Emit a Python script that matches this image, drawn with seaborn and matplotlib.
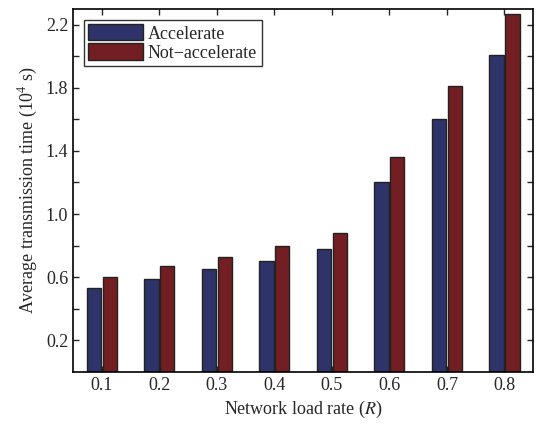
import matplotlib.pyplot as plt
import numpy as np
import pandas as pd
import seaborn as sns

load_rates = ['0.1', '0.2', '0.3', '0.4', '0.5', '0.6', '0.7', '0.8']
accelerate = [0.53, 0.59, 0.65, 0.70, 0.78, 1.20, 1.60, 2.01]
not_accelerate = [0.60, 0.67, 0.73, 0.80, 0.88, 1.36, 1.81, 2.27]
series_names = ['Accelerate', 'Not\u2212accelerate']
colors = ['#2e3469', '#731e22']

df = pd.DataFrame({
    'rate': load_rates * 2,
    'time': accelerate + not_accelerate,
    'method': [series_names[0]] * len(load_rates) + [series_names[1]] * len(load_rates),
})

sns.set_style('ticks')
plt.rcParams['font.family'] = ['Liberation Serif', 'DejaVu Serif']
plt.rcParams['mathtext.fontset'] = 'stix'

fig, ax = plt.subplots(figsize=(5.37, 4.24), dpi=100)
sns.barplot(data=df, x='rate', y='time', hue='method', palette=colors,
            width=0.55, gap=0.1, edgecolor='#222222', linewidth=1.0,
            saturation=1, ax=ax)

ax.set_xlim(-0.5, 7.5)
ax.set_ylim(0, 2.3)
yt = np.arange(0.2, 2.3, 0.2)
ax.set_yticks(yt)
ax.set_yticklabels([f'{v:.1f}' if i % 2 == 0 else '' for i, v in enumerate(yt)])
ax.tick_params(direction='in', top=True, right=True, labelsize=13, length=4, width=1)
for s in ax.spines.values():
    s.set_visible(True)
    s.set_linewidth(1.2)
    s.set_color('black')

ax.set_xlabel('Network load rate ($\\it{R}$)', fontsize=13)
ax.set_ylabel('Average transmission time (10$^4$ s)', fontsize=13)

leg = ax.legend(loc='upper left', fontsize=13, frameon=True, fancybox=False,
                edgecolor='black', handlelength=3.0, handleheight=1.0,
                borderaxespad=0.6, borderpad=0.25, labelspacing=0.05, handletextpad=0.3)
leg.get_frame().set_linewidth(1.0)
leg.set_title(None)

plt.subplots_adjust(left=0.136, right=0.993, top=0.979, bottom=0.123)
plt.savefig('out.png', dpi=100)
